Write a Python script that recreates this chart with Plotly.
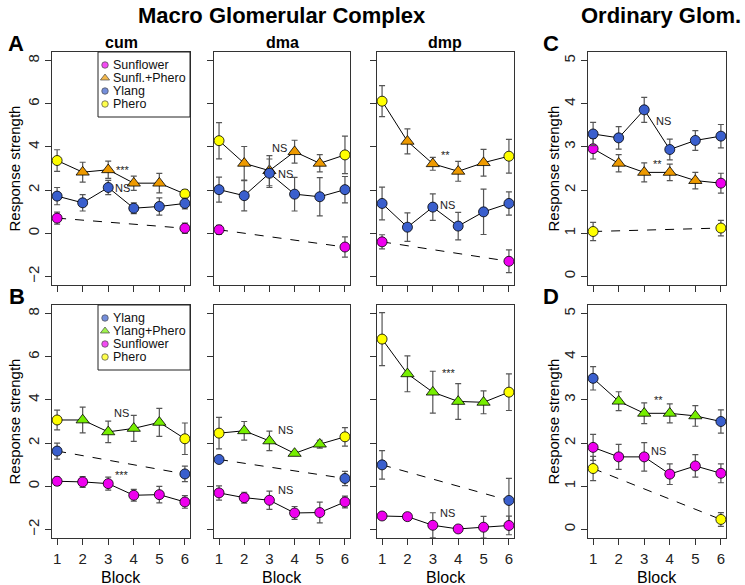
import plotly.graph_objects as go

W, H = 745, 585
FONT = "Liberation Sans, Arial, Helvetica, sans-serif"

blocks = [1, 2, 3, 4, 5, 6]
end_blocks = [1, 6]

MAG, ORA, BLU, YEL, GRN = "#EE00EE", "#EE9A00", "#3A5FCD", "#FFFF00", "#76EE00"

# ---------------- Panel A (MGC: Phero / Sunfl.+Phero, Ylang, Sunflower) ----------------
A_cum_mix = [3.37, 2.83, 2.94, 2.32, 2.32, 1.82]
A_cum_mix_err = [0.50, 0.46, 0.40, 0.33, 0.45, 0.20]
A_cum_ylang = [1.72, 1.41, 2.12, 1.16, 1.24, 1.38]
A_cum_ylang_err = [0.40, 0.38, 0.33, 0.25, 0.40, 0.25]
A_cum_sun = [0.70, 0.23]
A_cum_sun_err = [0.28, 0.24]

A_dma_mix = [4.29, 3.24, 2.90, 3.78, 3.24, 3.63]
A_dma_mix_err = [0.84, 0.78, 0.70, 0.53, 0.40, 0.87]
A_dma_ylang = [2.02, 1.74, 2.78, 1.81, 1.69, 2.02]
A_dma_ylang_err = [0.58, 0.70, 0.66, 0.78, 0.89, 0.61]
A_dma_sun = [0.16, -0.64]
A_dma_sun_err = [0.21, 0.47]

A_dmp_mix = [6.12, 4.26, 3.22, 2.87, 3.27, 3.57]
A_dmp_mix_err = [0.72, 0.58, 0.30, 0.46, 0.62, 0.78]
A_dmp_ylang = [1.38, 0.28, 1.21, 0.33, 0.99, 1.38]
A_dmp_ylang_err = [0.76, 0.66, 0.61, 0.64, 1.05, 0.54]
A_dmp_sun = [-0.40, -1.30]
A_dmp_sun_err = [0.33, 0.53]

# ---------------- Panel C (Ordinary glom.: Ylang, Sunflower / Sunfl.+Phero, Phero) ----------------
C_ylang = [3.30, 3.21, 3.86, 2.94, 3.15, 3.25]
C_ylang_err = [0.27, 0.26, 0.29, 0.24, 0.23, 0.27]
C_mix = [2.96, 2.62, 2.41, 2.41, 2.22, 2.16]
C_mix_err = [0.24, 0.20, 0.22, 0.19, 0.19, 0.23]
C_phero = [1.04, 1.12]
C_phero_err = [0.21, 0.18]

# ---------------- Panel B (MGC: Phero / Ylang+Phero, Ylang, Sunflower) ----------------
B_cum_mix = [3.07, 3.07, 2.52, 2.68, 2.96, 2.20]
B_cum_mix_err = [0.46, 0.60, 0.50, 0.60, 0.65, 0.73]
B_cum_ylang = [1.63, 0.57]
B_cum_ylang_err = [0.37, 0.36]
B_cum_sun = [0.23, 0.20, 0.12, -0.42, -0.39, -0.73]
B_cum_sun_err = [0.19, 0.25, 0.30, 0.27, 0.38, 0.29]

B_dma_mix = [2.46, 2.57, 2.10, 1.52, 1.95, 2.29]
B_dma_mix_err = [0.73, 0.43, 0.45, 0.08, 0.18, 0.43]
B_dma_ylang = [1.24, 0.36]
B_dma_ylang_err = [0.05, 0.33]
B_dma_sun = [-0.31, -0.53, -0.65, -1.24, -1.22, -0.73]
B_dma_sun_err = [0.33, 0.25, 0.42, 0.30, 0.48, 0.27]

B_dmp_mix = [6.82, 5.21, 4.36, 3.93, 3.89, 4.36]
B_dmp_mix_err = [1.23, 0.83, 0.97, 0.83, 0.53, 0.85]
B_dmp_ylang = [0.99, -0.66]
B_dmp_ylang_err = [0.66, 1.02]
B_dmp_sun = [-1.38, -1.41, -1.81, -1.98, -1.90, -1.82]
B_dmp_sun_err = [0.16, 0.08, 0.58, 0.12, 0.50, 0.43]

# ---------------- Panel D (Ordinary glom.: Ylang / Ylang+Phero, Sunflower, Phero) ----------------
D_mix = [3.50, 2.97, 2.69, 2.69, 2.63, 2.50]
D_mix_err = [0.27, 0.22, 0.24, 0.22, 0.24, 0.27]
D_sun = [1.90, 1.68, 1.68, 1.28, 1.47, 1.30]
D_sun_err = [0.30, 0.29, 0.33, 0.24, 0.26, 0.22]
D_phero = [1.41, 0.23]
D_phero_err = [0.28, 0.16]

# significance labels: (text, block position, response value)
A_cum_stats = [("***", 3.56, 2.95), ("NS", 3.54, 2.09)]
A_dma_stats = [("NS", 3.41, 3.95), ("NS", 3.65, 2.74)]
A_dmp_stats = [("**", 3.51, 3.62), ("NS", 3.57, 1.32)]
C_stats = [("NS", 3.76, 3.59), ("**", 3.52, 2.60)]
B_cum_stats = [("NS", 3.50, 3.40), ("***", 3.55, 0.52)]
B_dma_stats = [("NS", 3.62, 2.60), ("NS", 3.62, -0.19)]
B_dmp_stats = [("***", 3.64, 5.24), ("NS", 3.57, -1.25)]
D_stats = [("**", 3.54, 3.00), ("NS", 3.56, 1.81)]

legend_A = [("Sunflower", MAG, "circle"), ("Sunfl.+Phero", ORA, "triangle-up"),
            ("Ylang", BLU, "circle"), ("Phero", YEL, "circle")]
legend_B = [("Ylang", BLU, "circle"), ("Ylang+Phero", GRN, "triangle-up"),
            ("Sunflower", MAG, "circle"), ("Phero", YEL, "circle")]

# ---------------- layout geometry (pixels) ----------------
col_px = [(52, 190), (214, 350), (377, 514), (588, 726)]
row_px = [(52, 285), (305, 538)]


def xd(a, b):
    return [a / W, b / W]


def yd(a, b):
    return [1 - b / H, 1 - a / H]


fig = go.Figure()


def axn(ax, letter):
    return letter + ("" if ax == 1 else str(ax))


def add_markers(ax, xs, ys, errs, color, symbol):
    fig.add_trace(go.Scatter(
        x=xs, y=ys, mode="markers",
        marker=dict(color=color, symbol=symbol, size=11.5 if symbol == "triangle-up" else 10,
                    line=dict(color="black", width=0.8), opacity=1),
        error_y=dict(type="data", array=errs, color="#555555", thickness=1.2, width=3),
        xaxis=axn(ax, "x"), yaxis=axn(ax, "y"), showlegend=False, hoverinfo="skip"))


def add_line(ax, xs, ys, dash):
    fig.add_trace(go.Scatter(
        x=xs, y=ys, mode="lines", line=dict(color="black", width=1, dash=dash),
        xaxis=axn(ax, "x"), yaxis=axn(ax, "y"), showlegend=False, hoverinfo="skip"))


def series_plain(ax, xs, ys, errs, color, dash):
    add_line(ax, xs, ys, dash)
    add_markers(ax, xs, ys, errs, color, "circle")


def series_mixed(ax, ys, errs, end_color, mid_color):
    # blocks 1 & 6: single odour (circle); blocks 2-5: mixture (triangle)
    add_line(ax, blocks, ys, "solid")
    add_markers(ax, blocks[1:5], ys[1:5], errs[1:5], mid_color, "triangle-up")
    add_markers(ax, [blocks[0], blocks[5]], [ys[0], ys[5]], [errs[0], errs[5]], end_color, "circle")


# Panel A
series_mixed(1, A_cum_mix, A_cum_mix_err, YEL, ORA)
series_plain(1, blocks, A_cum_ylang, A_cum_ylang_err, BLU, "solid")
series_plain(1, end_blocks, A_cum_sun, A_cum_sun_err, MAG, "dash")
series_mixed(2, A_dma_mix, A_dma_mix_err, YEL, ORA)
series_plain(2, blocks, A_dma_ylang, A_dma_ylang_err, BLU, "solid")
series_plain(2, end_blocks, A_dma_sun, A_dma_sun_err, MAG, "dash")
series_mixed(3, A_dmp_mix, A_dmp_mix_err, YEL, ORA)
series_plain(3, blocks, A_dmp_ylang, A_dmp_ylang_err, BLU, "solid")
series_plain(3, end_blocks, A_dmp_sun, A_dmp_sun_err, MAG, "dash")
# Panel C
series_mixed(4, C_mix, C_mix_err, MAG, ORA)
series_plain(4, blocks, C_ylang, C_ylang_err, BLU, "solid")
series_plain(4, end_blocks, C_phero, C_phero_err, YEL, "dash")
# Panel B
series_mixed(5, B_cum_mix, B_cum_mix_err, YEL, GRN)
series_plain(5, end_blocks, B_cum_ylang, B_cum_ylang_err, BLU, "dash")
series_plain(5, blocks, B_cum_sun, B_cum_sun_err, MAG, "solid")
series_mixed(6, B_dma_mix, B_dma_mix_err, YEL, GRN)
series_plain(6, end_blocks, B_dma_ylang, B_dma_ylang_err, BLU, "dash")
series_plain(6, blocks, B_dma_sun, B_dma_sun_err, MAG, "solid")
series_mixed(7, B_dmp_mix, B_dmp_mix_err, YEL, GRN)
series_plain(7, end_blocks, B_dmp_ylang, B_dmp_ylang_err, BLU, "dash")
series_plain(7, blocks, B_dmp_sun, B_dmp_sun_err, MAG, "solid")
# Panel D
series_mixed(8, D_mix, D_mix_err, BLU, GRN)
series_plain(8, blocks, D_sun, D_sun_err, MAG, "solid")
series_plain(8, end_blocks, D_phero, D_phero_err, YEL, "dash")

annotations = []
for ax, stats in [(1, A_cum_stats), (2, A_dma_stats), (3, A_dmp_stats), (4, C_stats),
                  (5, B_cum_stats), (6, B_dma_stats), (7, B_dmp_stats), (8, D_stats)]:
    for txt, xv, yv in stats:
        annotations.append(dict(text=txt, x=xv, y=yv, xref=axn(ax, "x"), yref=axn(ax, "y"),
                                showarrow=False, font=dict(size=11, color="#222222", family=FONT)))

layout_axes = {}
for ax in range(1, 9):
    row = 0 if ax <= 4 else 1
    col = (ax - 1) % 4
    ordinary = col == 3
    axis_common = dict(showline=True, linecolor="#333333", linewidth=1, mirror=True,
                       ticks="outside", ticklen=6, tickcolor="#333333", tickwidth=1,
                       showgrid=False, zeroline=False, fixedrange=True)
    layout_axes[axn(ax, "xaxis")] = dict(axis_common, domain=xd(*col_px[col]), range=[0.8, 6.2],
                                         tickvals=blocks, showticklabels=(row == 1),
                                         ticklabelstandoff=1,
                                         tickfont=dict(size=15, family=FONT, color="#222222"),
                                         anchor=axn(ax, "y"))
    if ordinary:
        yr, yt = [-0.2, 5.2], [0, 1, 2, 3, 4, 5]
    else:
        yr, yt = [-2.4, 8.4], [-2, 0, 2, 4, 6, 8]
    layout_axes[axn(ax, "yaxis")] = dict(axis_common, domain=yd(*row_px[row]), range=yr, tickvals=yt,
                                         showticklabels=(col in (0, 3)), tickangle=-90,
                                         tickfont=dict(size=15, family=FONT, color="#222222"),
                                         anchor=axn(ax, "x"))

# overlay pixel axis for the legends
layout_axes["xaxis9"] = dict(domain=[0, 1], range=[0, W], visible=False, anchor="y9", fixedrange=True)
layout_axes["yaxis9"] = dict(domain=[0, 1], range=[H, 0], visible=False, anchor="x9", fixedrange=True)

shapes = []
for items, (top, _), (l, r) in [(legend_A, row_px[0], (98, col_px[0][1])),
                                 (legend_B, row_px[1], (98, col_px[0][1]))]:
    shapes.append(dict(type="rect", xref="x9", yref="y9", x0=l, x1=r, y0=top, y1=top + 65,
                       line=dict(color="#222222", width=1), fillcolor="white", layer="below"))
    ys = [top + 13 + 13 * i for i in range(len(items))]
    fig.add_trace(go.Scatter(
        x=[l + 7] * len(items), y=ys, mode="markers",
        marker=dict(color=[c for _, c, _ in items], symbol=[s for _, _, s in items],
                    size=[8 if s == "triangle-up" else 6.5 for _, _, s in items],
                    line=dict(color="black", width=0.7)),
        xaxis="x9", yaxis="y9", showlegend=False, hoverinfo="skip"))
    for (name, _, _), yy in zip(items, ys):
        annotations.append(dict(text=name, x=l + 13, y=yy, xref="x9", yref="y9",
                                xanchor="left", yanchor="middle", showarrow=False,
                                font=dict(size=12.5, family=FONT, color="#111111")))


def px_ann(text, x, y, size, bold=False, angle=0):
    return dict(text=("<b>%s</b>" % text) if bold else text, x=x / W, y=1 - y / H,
                xref="paper", yref="paper", showarrow=False, textangle=angle,
                xanchor="center", yanchor="middle",
                font=dict(size=size, family=FONT, color="black"))


annotations += [
    px_ann("Macro Glomerular Complex", 282, 15, 22, True),
    px_ann("Ordinary Glom.", 661, 15, 22, True),
    px_ann("A", 16, 44, 22, True),
    px_ann("B", 17, 296, 22, True),
    px_ann("C", 551, 44, 22, True),
    px_ann("D", 551, 296, 22, True),
    px_ann("cum", 121, 43, 16, True),
    px_ann("dma", 282, 43, 16, True),
    px_ann("dmp", 445, 43, 16, True),
]
for (a, b) in row_px:
    for xc in (14, 553):
        annotations.append(px_ann("Response strength", xc, (a + b) / 2, 15, False, -90))
for (l, r) in col_px:
    annotations.append(px_ann("Block", (l + r) / 2, 577, 16))

fig.update_layout(
    width=W, height=H, margin=dict(l=0, r=0, t=0, b=0),
    paper_bgcolor="white", plot_bgcolor="rgba(0,0,0,0)",
    font=dict(family=FONT), showlegend=False,
    annotations=annotations, shapes=shapes, **layout_axes)

fig.write_html("out.html", config={"displayModeBar": False},
               post_script="document.body.style.margin='0px';")
